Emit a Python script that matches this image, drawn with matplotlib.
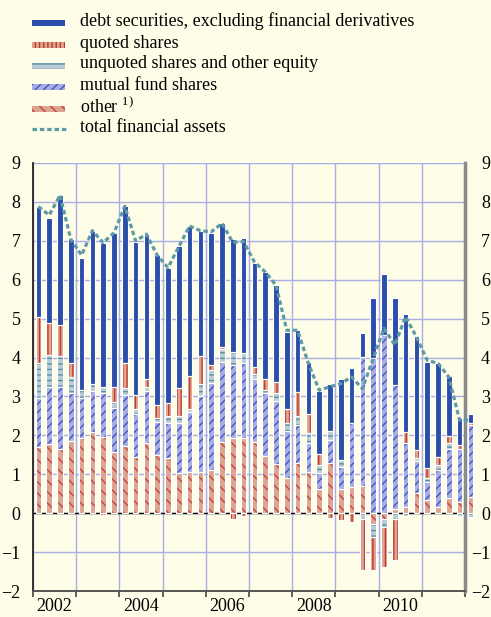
import matplotlib
matplotlib.use("Agg")
import matplotlib.pyplot as plt
from matplotlib.patches import Rectangle
from matplotlib.lines import Line2D
import numpy as np

# ---- Data (percentage contributions, 2002Q1 - 2012Q1) ----
years = [2002, 2003, 2004, 2005, 2006, 2007, 2008, 2009, 2010, 2011]
year_labels = ["2002", "", "2004", "", "2006", "", "2008", "", "2010", ""]

debt = [2.83, 2.69, 3.34, 3.18, 3.39, 3.94, 3.70, 3.96, 4.03, 3.95,
        3.71, 3.84, 3.45, 3.64, 3.86, 3.22, 3.37, 3.20, 2.89, 2.94,
        2.66, 2.76, 2.48, 1.99, 1.58, 1.35, 1.63, 1.20, 2.10, 1.40,
        0.62, 1.54, 1.58, 2.23, 3.03, 2.94, 2.74, 2.42, 1.54, 0.70,
        0.24]
quoted = [1.17, 0.84, 0.79, 0.36, 0.00, 0.00, -0.05, 0.39, 0.64, 0.34,
          0.21, 0.34, 0.35, 0.73, 0.83, 0.71, 0.13, 0.04, -0.14, -0.07,
          0.19, 0.27, 0.28, 0.34, 0.63, 0.49, 0.26, -0.13, -0.17, -0.22,
          -1.31, -0.87, -1.03, -1.05, 0.28, 0.20, 0.24, 0.22, 0.17, 0.09,
          0.05]
unquoted = [0.89, 0.81, 0.79, 0.42, 0.21, 0.18, 0.16, 0.15, 0.17, 0.13,
            0.11, 0.10, 0.17, 0.17, 0.09, 0.32, 0.34, 0.34, 0.35, 0.25,
            0.11, 0.07, 0.21, 0.23, 0.22, 0.25, 0.23, 0.23, 0.17, 0.00,
            -0.15, -0.32, -0.20, -0.15, -0.07, 0.08, 0.10, 0.12, 0.15, -0.07,
            -0.10]
mutual = [1.26, 1.48, 1.59, 1.23, 1.03, 1.05, 1.13, 1.15, 1.32, 1.11,
          1.33, 0.86, 0.90, 1.30, 1.55, 1.95, 2.24, 2.07, 1.88, 1.95,
          1.63, 1.63, 1.63, 1.19, 0.98, 0.75, 0.39, 0.60, 0.56, 1.64,
          3.33, 3.98, 4.58, 3.17, 1.65, 0.83, 0.48, 0.95, 1.28, 1.37,
          1.84]
other = [1.71, 1.77, 1.66, 1.85, 1.92, 2.09, 1.96, 1.56, 1.73, 1.45,
         1.81, 1.49, 1.42, 1.02, 1.05, 1.06, 1.11, 1.82, 1.92, 1.92,
         1.83, 1.47, 1.26, 0.91, 1.29, 1.05, 0.63, 1.29, 0.63, 0.68,
         0.69, -0.28, -0.15, 0.12, 0.16, 0.51, 0.33, 0.16, 0.38, 0.29,
         0.42]
total = [7.88, 7.66, 8.17, 7.04, 6.63, 7.26, 6.95, 7.21, 7.89, 7.00,
         7.17, 6.63, 6.31, 6.85, 7.38, 7.26, 7.23, 7.45, 6.96, 6.98,
         6.46, 6.20, 5.86, 4.70, 4.70, 3.85, 3.16, 3.25, 3.33, 3.50,
         3.20, 3.98, 4.75, 4.32, 5.05, 4.53, 3.93, 3.85, 3.50, 2.39,
         2.39]

# ---- Styles ----
bg = "#fefde8"
grid_col = "#a9ace6"
fs = 13
plt.rcParams["font.family"] = ["Liberation Serif", "DejaVu Serif"]
plt.rcParams["mathtext.fontset"] = "stix"
plt.rcParams["hatch.linewidth"] = 1.0

# order of stacking from the zero line outwards
stack = [
    (other, "#dea492", "\\\\\\", "#c4473a"),
    (mutual, "#a8ade4", "////", "#4355c2"),
    (unquoted, "#b9cdd7", "---", "#5b8fa2"),
    (quoted, "#dea492", "||||", "#c0392b"),
    (debt, "#2b4eaa", None, None),
]
legend_order = [
    ("debt securities, excluding financial derivatives", 4),
    ("quoted shares", 3),
    ("unquoted shares and other equity", 2),
    ("mutual fund shares", 1),
    ("other $^{\\mathregular{1)}}$", 0),
]

W, H = 491, 617
fig = plt.figure(figsize=(W / 100, H / 100), dpi=100, facecolor=bg)
ax = fig.add_axes([33 / W, 1 - 591 / H, (465 - 33) / W, (591 - 163) / H])
ax.set_facecolor(bg)

n = len(debt)
x = np.arange(n) + 0.5
width = 0.52

pos_base = np.zeros(n)
neg_base = np.zeros(n)
for vals, face, hatch, hcol in stack:
    v = np.array(vals)
    for part, base in ((np.clip(v, 0, None), pos_base), (np.clip(v, None, 0), neg_base)):
        keep = part != 0
        xs, hs, bs = x[keep], part[keep], base[keep]
        ax.bar(xs, hs, bottom=bs, width=width, color=face, linewidth=0,
               zorder=3, clip_on=False)
        if hatch:
            ax.bar(xs, hs, bottom=bs, width=width, color="none", edgecolor=hcol,
                   hatch=hatch, linewidth=0, zorder=3.1, clip_on=False)
        ax.bar(xs, hs, bottom=bs, width=width, color="none", edgecolor="white",
               linewidth=0.8, zorder=3.2, clip_on=False)
    pos_base += np.clip(v, 0, None)
    neg_base += np.clip(v, None, 0)

ax.plot(x, total, color="#5e9aa6", lw=2.3, linestyle=(0, (1.4, 0.9)),
        zorder=5, clip_on=False)

# ---- Axes ----
ax.set_xlim(0, 4 * len(years))
ax.set_ylim(-2, 9)
ax.axhline(0, color="black", lw=1.0, zorder=2.5)

ax.set_yticks(range(-2, 10))
ax.set_xticks(range(0, 4 * len(years) + 1, 4))
ax.set_xticks([4 * i + 2 for i in range(len(years))], minor=True)
ax.set_xticklabels([])
ax.set_xticklabels(year_labels, minor=True, fontsize=fs)
ax.tick_params(axis="x", which="major", direction="out", length=4,
               color="#444444", width=1.2)
ax.tick_params(axis="x", which="minor", length=0, pad=5)
ax.tick_params(axis="y", length=0, pad=9, labelsize=fs)
ax.grid(True, which="major", color=grid_col, lw=1.0, zorder=0)
ax.set_axisbelow(True)

ax.spines["top"].set_visible(False)
ax.spines["left"].set_color("#222222")
ax.spines["left"].set_linewidth(1.3)
ax.spines["right"].set_color("#8a8a8a")
ax.spines["right"].set_linewidth(2.5)
ax.spines["bottom"].set_color("#555555")
ax.spines["bottom"].set_linewidth(1.4)

ax2 = ax.twinx()
ax2.set_ylim(-2, 9)
ax2.set_yticks(range(-2, 10))
ax2.tick_params(axis="y", length=0, pad=18, labelsize=fs)
for lab in ax2.get_yticklabels():
    lab.set_horizontalalignment("right")
for s in ax2.spines.values():
    s.set_visible(False)

# ---- Legend (drawn in pixel positions on the figure) ----
def fx(px):
    return px / W

def fy(py):
    return 1 - py / H

row_y = [21, 43, 64, 85, 107, 128]
for (label, idx), ry in zip(legend_order, row_y):
    _, face, hatch, hcol = stack[idx]
    fig.add_artist(Rectangle((fx(32), fy(ry + 5)), fx(33), 6 / H,
                             transform=fig.transFigure, facecolor=face,
                             edgecolor="none"))
    if hatch:
        fig.add_artist(Rectangle((fx(32), fy(ry + 5)), fx(33), 6 / H,
                                 transform=fig.transFigure, facecolor="none",
                                 edgecolor=hcol, hatch=hatch, linewidth=0))
    fig.text(fx(80), fy(ry), label, fontsize=fs, va="center", ha="left")

fig.add_artist(Line2D([fx(32), fx(66)], [fy(row_y[5] + 1)] * 2,
                      transform=fig.transFigure, color="#5e9aa6", lw=2.3,
                      linestyle=(0, (1.4, 0.9))))
fig.text(fx(80), fy(row_y[5]), "total financial assets", fontsize=fs,
         va="center", ha="left")

fig.savefig("out.png", dpi=100, facecolor=bg)
